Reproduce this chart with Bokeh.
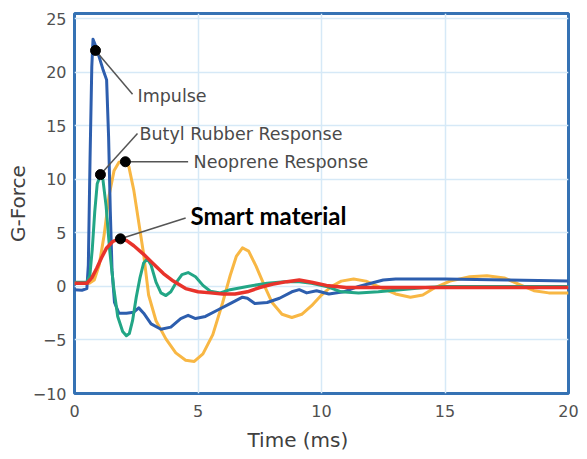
from bokeh.plotting import figure
from bokeh.models import Label, FixedTicker, Range1d, Title
from bokeh.embed import file_html
from bokeh.resources import INLINE

# ---- data ----
impulse_t = [0, 0.3, 0.5, 0.56, 0.63, 0.7, 0.75, 0.85, 0.95, 1.15, 1.3, 1.38, 1.45, 1.52, 1.62, 1.8, 2.1, 2.4, 2.6, 2.8,
             3.1, 3.5, 3.9, 4.3, 4.6, 4.9, 5.3, 5.8, 6.3, 6.8, 7.0, 7.3, 7.8, 8.3, 8.8, 9.1, 9.4, 9.8, 10.3, 10.9,
             11.5, 12.0, 12.5, 13.0, 15.0, 17.5, 20]
impulse_g = [-0.3, -0.35, -0.2, 2.0, 12.0, 20.5, 23.1, 22.5, 21.8, 20.3, 19.3, 14.0, 7.0, 1.5, -1.5, -2.5, -2.5, -2.4, -2.0, -2.5,
             -3.5, -4.0, -3.8, -3.0, -2.7, -3.0, -2.8, -2.2, -1.6, -1.0, -1.1, -1.6, -1.5, -1.1, -0.5, -0.3, -0.6, -0.4, -0.7, -0.5,
             0.0, 0.3, 0.6, 0.7, 0.7, 0.6, 0.5]

butyl_t = [0, 0.5, 0.62, 0.72, 0.82, 0.92, 1.05, 1.15, 1.28, 1.42, 1.58, 1.75, 1.95, 2.1, 2.22, 2.35, 2.5, 2.65, 2.8, 2.95,
           3.1, 3.3, 3.5, 3.7, 3.9, 4.1, 4.35, 4.6, 4.9, 5.2, 5.5, 5.9, 6.3, 7.0, 7.8, 8.5, 9.1, 9.6, 10.2, 10.8,
           11.5, 12.3, 13.2, 14.2, 15.0, 17.5, 20]
butyl_g = [0.4, 0.4, 1.0, 3.5, 7.0, 9.6, 10.4, 10.0, 7.5, 3.5, 0.0, -2.8, -4.2, -4.6, -4.4, -3.2, -1.0, 0.8, 2.2, 2.6,
           2.0, 0.4, -0.6, -0.85, -0.5, 0.3, 1.1, 1.3, 0.9, 0.1, -0.45, -0.6, -0.3, 0.0, 0.3, 0.45, 0.45, 0.3, 0.0, -0.5,
           -0.6, -0.5, -0.3, -0.1, 0.0, 0.0, 0.0]

neoprene_t = [0, 0.6, 0.8, 1.0, 1.2, 1.4, 1.6, 1.8, 2.0, 2.2, 2.4, 2.6, 2.8, 3.0, 3.3, 3.7, 4.1, 4.5, 4.85, 5.2,
              5.6, 6.0, 6.3, 6.55, 6.8, 7.05, 7.35, 7.7, 8.0, 8.4, 8.8, 9.2, 9.6, 10.0, 10.4, 10.8, 11.3, 11.8, 12.4, 13.0,
              13.6, 14.1, 14.6, 15.2, 16.0, 16.7, 17.4, 18.0, 18.6, 19.2, 20]
neoprene_g = [0.3, 0.3, 0.6, 2.0, 4.8, 8.5, 10.8, 11.6, 11.7, 11.2, 9.0, 6.0, 3.0, -0.8, -3.2, -4.9, -6.2, -6.9, -7.0, -6.3,
              -4.5, -1.5, 1.0, 2.8, 3.6, 3.3, 1.9, 0.0, -1.5, -2.6, -2.9, -2.6, -1.8, -0.8, 0.0, 0.5, 0.7, 0.5, -0.1, -0.7,
              -1.0, -0.8, -0.1, 0.5, 0.9, 1.0, 0.8, 0.2, -0.4, -0.6, -0.6]

smart_t = [0, 0.5, 0.7, 0.9, 1.1, 1.3, 1.55, 1.8, 2.1, 2.4, 2.8, 3.2, 3.6, 4.0, 4.5, 5.0, 5.5, 6.0, 6.5, 7.0,
           7.5, 8.0, 8.6, 9.1, 9.6, 10.2, 11.0, 12.0, 14.0, 16.0, 18.0, 20]
smart_g = [0.3, 0.3, 0.8, 1.7, 2.7, 3.6, 4.2, 4.45, 4.3, 3.8, 3.0, 2.1, 1.2, 0.5, -0.2, -0.5, -0.6, -0.7, -0.7, -0.5,
           -0.1, 0.2, 0.45, 0.6, 0.4, 0.1, -0.1, -0.1, -0.1, -0.1, -0.1, -0.1]

x_ticks = [0, 5, 10, 15, 20]
y_ticks = [-10, -5, 0, 5, 10, 15, 20, 25]

# annotation: label names, marker points on curves, leader-line ends, text anchors
ann_names = ["Impulse", "Butyl Rubber Response", "Neoprene Response", "Smart material"]
ann_dot_t = [0.85, 1.05, 2.06, 1.86]
ann_dot_g = [22.05, 10.45, 11.65, 4.45]
ann_end_t = [2.35, 2.55, 4.6, 4.5]
ann_end_g = [17.95, 14.3, 11.65, 6.4]
ann_text_t = [2.55, 2.63, 4.82, 4.7]
ann_text_g = [17.8, 14.2, 11.6, 6.6]

# ---- figure ----
p = figure(frame_width=494, frame_height=380,
           x_range=Range1d(0, 20), y_range=Range1d(-10, 25.5),
           output_backend="svg", toolbar_location=None,
           min_border_left=74, min_border_right=15, min_border_top=13, min_border_bottom=60,
           background_fill_color="white", border_fill_color="white")

p.outline_line_color = "#3572b4"
p.outline_line_width = 3

for ax in (p.xaxis[0], p.yaxis[0]):
    ax.axis_line_color = None
    ax.major_tick_line_color = None
    ax.minor_tick_line_color = None
    ax.major_tick_out = 0
    ax.major_tick_in = 0
    ax.major_label_text_font = "DejaVu Sans"
    ax.major_label_text_font_size = "16px"
    ax.major_label_text_color = "#505050"

p.xaxis.ticker = FixedTicker(ticks=x_ticks)
p.yaxis.ticker = FixedTicker(ticks=y_ticks)
p.xaxis.major_label_standoff = 11
p.yaxis.major_label_standoff = 8

p.xgrid.ticker = FixedTicker(ticks=x_ticks)
p.ygrid.ticker = FixedTicker(ticks=y_ticks)
p.grid.grid_line_color = "#d6e9f7"
p.grid.grid_line_width = 1.5

p.line(neoprene_t, neoprene_g, line_color="#f8b744", line_width=3, line_join="round")
p.line(impulse_t, impulse_g, line_color="#2d5eae", line_width=3, line_join="round")
p.line(butyl_t, butyl_g, line_color="#22a686", line_width=3, line_join="round")
p.line(smart_t, smart_g, line_color="#e8332b", line_width=3.5, line_join="round")

# leader lines and dots
p.segment(x0=ann_dot_t, y0=ann_dot_g, x1=ann_end_t, y1=ann_end_g, line_color="#555555", line_width=1.5)
p.scatter(ann_dot_t, ann_dot_g, size=10, color="black")

for name, tx, ty in zip(ann_names, ann_text_t, ann_text_g):
    if name == "Smart material":
        lab = Label(x=tx, y=ty, text=name, text_font="Lato", text_font_style="bold",
                    text_font_size="24px", text_color="black", text_baseline="middle", text_align="left")
    else:
        lab = Label(x=tx, y=ty, text=name, text_font="DejaVu Sans",
                    text_font_size="17.5px", text_color="#4a4a4a", text_baseline="middle", text_align="left")
    p.add_layout(lab)

# axis titles
p.add_layout(Title(text="Time (ms)", align="left", offset=173, standoff=12,
                   text_font="DejaVu Sans", text_font_size="20px", text_font_style="normal",
                   text_color="#404040"), "below")
p.add_layout(Title(text="G-Force", align="center", standoff=0,
                   text_font="DejaVu Sans", text_font_size="20px", text_font_style="normal",
                   text_color="#404040"), "left")

open("out.html", "w").write(file_html(p, INLINE))
